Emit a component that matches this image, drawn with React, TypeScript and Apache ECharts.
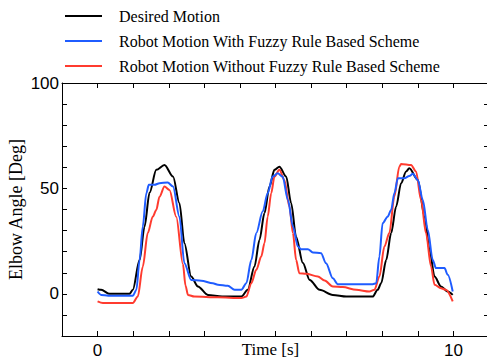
import React, { useEffect, useRef } from "react";
import * as echarts from "echarts";

const seriesNames = [
  "Desired Motion",
  "Robot Motion With Fuzzy Rule Based Scheme",
  "Robot Motion Without Fuzzy Rule Based Scheme",
];

const desiredT = [0, 0.1, 0.34, 0.9, 0.99, 1.18, 1.32, 1.46, 1.65, 1.88, 2.12, 2.3, 2.44, 2.63, 2.82, 3.1, 3.5, 4.04, 4.22, 4.41, 4.55, 4.69, 4.83, 4.97, 5.11, 5.3, 5.44, 5.58, 5.77, 5.96, 6.24, 6.61, 6.99, 7.73, 7.87, 7.97, 8.11, 8.25, 8.39, 8.53, 8.67, 8.76, 9.0, 9.19, 9.33, 9.47, 9.65, 9.84, 9.98];
const desiredY = [2.2, 1.9, 0, 0, 1.9, 16, 31.9, 47.9, 58.8, 61.1, 55.6, 43, 24, 8.2, 3.5, -0.5, -1.3, -1.3, 1.9, 13, 25.6, 38.3, 50.9, 58.8, 60.3, 55.6, 43, 27, 14.6, 6.6, 1.9, -0.5, -1.3, -1.3, 1.9, 5, 16, 28.8, 41.4, 52.5, 58, 59.6, 54, 36.6, 20.8, 8.2, 3.5, 1.1, -0.5];

const fuzzyT = [0, 0.1, 0.3, 0.99, 1.09, 1.18, 1.27, 1.37, 1.44, 1.6, 1.74, 1.97, 2.12, 2.3, 2.44, 2.63, 2.91, 3.24, 3.38, 3.66, 3.85, 4.04, 4.18, 4.32, 4.46, 4.64, 4.78, 4.92, 5.06, 5.2, 5.35, 5.49, 5.63, 5.72, 5.91, 6.05, 6.28, 6.42, 6.61, 6.75, 7.73, 7.83, 7.92, 8.01, 8.15, 8.25, 8.34, 8.44, 8.62, 8.76, 8.86, 9.0, 9.14, 9.28, 9.42, 9.51, 9.75, 9.84, 9.98];
const fuzzyY = [1.1, -0.5, -0.9, -0.9, 1.9, 16, 31.9, 47.7, 51.7, 51.7, 52.5, 52.8, 50.9, 36.6, 14.5, 6.6, 6.2, 5, 4.3, 3.8, 1.9, 1.9, 5, 16, 28.8, 39, 47.7, 55.6, 57.2, 55.6, 44.5, 31.9, 22.4, 21.2, 21.2, 19.6, 19.3, 14.5, 7.4, 4.6, 4.6, 5, 17.7, 33.5, 36.6, 39.8, 47.7, 54.8, 54.8, 55.9, 56.9, 54, 44.5, 30.3, 16, 12.2, 12.2, 9, 1.1];

const noFuzzyT = [0, 0.15, 0.99, 1.13, 1.27, 1.41, 1.55, 1.65, 1.74, 1.88, 2.02, 2.21, 2.4, 2.47, 2.54, 2.72, 3.38, 4.04, 4.18, 4.32, 4.46, 4.6, 4.69, 4.78, 4.88, 4.97, 5.11, 5.25, 5.39, 5.49, 5.58, 5.67, 5.86, 6.19, 6.38, 6.61, 6.89, 7.27, 7.64, 7.78, 7.92, 8.06, 8.2, 8.34, 8.48, 8.53, 8.81, 8.95, 9.09, 9.23, 9.37, 9.47, 9.65, 9.79, 9.98];
const noFuzzyY = [-3.6, -4.4, -4.4, -1.3, 12.9, 28.8, 36.6, 39.8, 46.1, 50.9, 49.3, 36.6, 14, 4, -0.5, -1.3, -1.6, -2, -1.3, 5, 11.4, 17.7, 24, 36.6, 47.7, 55.6, 58.8, 54, 41.4, 28.8, 16, 9.8, 9.5, 8.2, 6.3, 3.5, 3.2, 1.9, 1.1, 1.9, 8.2, 22.4, 28.8, 46.1, 60.3, 61.6, 61.1, 58, 44.5, 28.8, 13, 4.3, 2.7, 1.9, -3.6];

const xLabels = [0, 10];
const yLabels = [0, 50, 100];

const colors = ["#000000", "#1f5cff", "#ff3b2f"];

const zip = (t: number[], y: number[]) => t.map((v, i) => [v, y[i]]);

export default function App() {
  const ref = useRef<HTMLDivElement>(null);
  useEffect(() => {
    if (!ref.current) return;
    const chart = echarts.init(ref.current, null, { renderer: "svg" });
    const axisCommon = {
      axisLine: { show: true, onZero: false, lineStyle: { color: "#000", width: 1 } },
      axisTick: { show: true, inside: true, length: 5, lineStyle: { color: "#000" } },
      splitLine: { show: false },
    };
    const labelStyle = { color: "#000", fontFamily: "Liberation Sans", fontSize: 17 };
    const lineSeries = (name: string, data: number[][], color: string, z: number) => ({
      name,
      type: "line",
      data,
      symbol: "none",
      smooth: 0.3,
      smoothMonotone: "x",
      lineStyle: { color, width: 2 },
      itemStyle: { color },
      z,
    });
    chart.setOption({
      animation: false,
      backgroundColor: "#fff",
      legend: {
        orient: "vertical",
        left: 60,
        top: 3,
        itemWidth: 37,
        itemHeight: 2,
        itemGap: 9,
        icon: "rect",
        data: seriesNames,
        textStyle: { color: "#000", fontFamily: "Liberation Serif", fontSize: 16, padding: [0, 0, 0, 12] },
      },
      grid: { left: 62, top: 83, width: 427, height: 253, containLabel: false, outerBoundsMode: "none" },
      xAxis: [
        {
          type: "value",
          min: -1,
          max: 11,
          interval: 1,
          position: "bottom",
          ...axisCommon,
          name: "Time [s]",
          nameLocation: "middle",
          nameGap: 5,
          nameMoveOverlap: false,
          nameTextStyle: {
            color: "#000",
            fontFamily: "Liberation Serif",
            fontSize: 17,
            verticalAlign: "top",
            padding: [0, 10, 0, 0],
          },
          axisLabel: {
            ...labelStyle,
            margin: 6,
            formatter: (v: number) => (xLabels.includes(v) ? String(v) : ""),
          },
        },
        {
          type: "value",
          min: -1,
          max: 11,
          interval: 1,
          position: "top",
          ...axisCommon,
          axisLabel: { show: false },
        },
      ],
      yAxis: [
        {
          type: "value",
          min: -20,
          max: 100,
          interval: 10,
          position: "left",
          ...axisCommon,
          name: "Elbow Angle [Deg]",
          nameLocation: "middle",
          nameGap: 37,
          nameMoveOverlap: false,
          nameTextStyle: { color: "#000", fontFamily: "Liberation Serif", fontSize: 18 },
          axisLabel: {
            ...labelStyle,
            margin: 3,
            formatter: (v: number) => (yLabels.includes(v) ? String(v) : ""),
          },
        },
        {
          type: "value",
          min: -20,
          max: 100,
          interval: 10,
          position: "right",
          ...axisCommon,
          axisLabel: { show: false },
        },
      ],
      series: [
        lineSeries(seriesNames[0], zip(desiredT, desiredY), colors[0], 2),
        lineSeries(seriesNames[2], zip(noFuzzyT, noFuzzyY), colors[2], 3),
        lineSeries(seriesNames[1], zip(fuzzyT, fuzzyY), colors[1], 4),
      ],
    });
    return () => chart.dispose();
  }, []);
  return <div ref={ref} style={{ width: 487, height: 362, position: "absolute", left: 0, top: 0 }} />;
}
